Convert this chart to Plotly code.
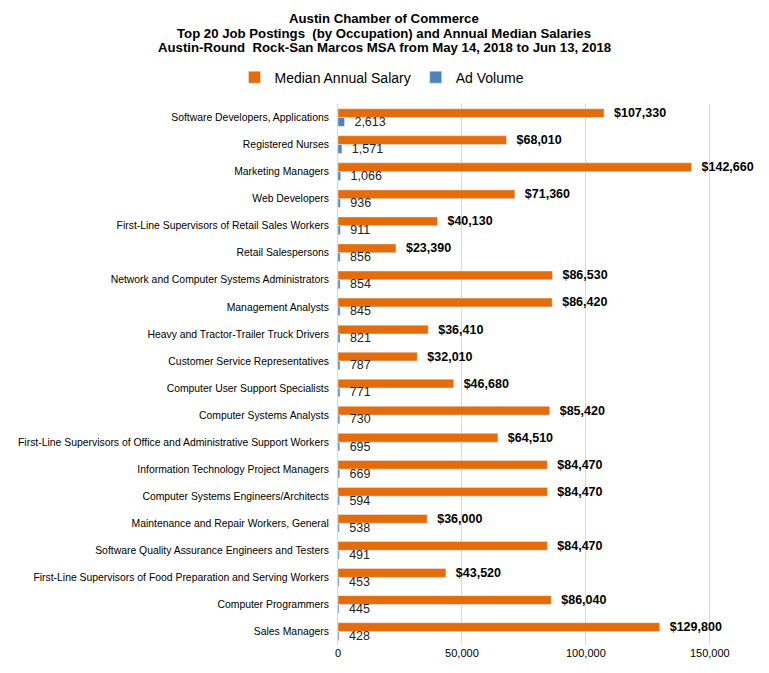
import plotly.graph_objects as go

occupations = [
    "Software Developers, Applications",
    "Registered Nurses",
    "Marketing Managers",
    "Web Developers",
    "First-Line Supervisors of Retail Sales Workers",
    "Retail Salespersons",
    "Network and Computer Systems Administrators",
    "Management Analysts",
    "Heavy and Tractor-Trailer Truck Drivers",
    "Customer Service Representatives",
    "Computer User Support Specialists",
    "Computer Systems Analysts",
    "First-Line Supervisors of Office and Administrative Support Workers",
    "Information Technology Project Managers",
    "Computer Systems Engineers/Architects",
    "Maintenance and Repair Workers, General",
    "Software Quality Assurance Engineers and Testers",
    "First-Line Supervisors of Food Preparation and Serving Workers",
    "Computer Programmers",
    "Sales Managers",
]
median_salary = [107330, 68010, 142660, 71360, 40130, 23390, 86530, 86420, 36410, 32010,
                 46680, 85420, 64510, 84470, 84470, 36000, 84470, 43520, 86040, 129800]
ad_volume = [2613, 1571, 1066, 936, 911, 856, 854, 845, 821, 787,
             771, 730, 695, 669, 594, 538, 491, 453, 445, 428]
x_ticks = [0, 50000, 100000, 150000]
x_tick_labels = ["0", "50,000", "100,000", "150,000"]

FONT = "Liberation Sans, Arial, sans-serif"
ORANGE = "#E46C0A"
BLUE = "#4F81BD"

fig = go.Figure()
fig.add_trace(go.Bar(
    y=occupations, x=median_salary, orientation="h", name="Median Annual Salary",
    marker_color=ORANGE, text=["  $" + f"{v:,}" for v in median_salary],
    textposition="outside", constraintext="none", cliponaxis=False,
    textfont=dict(family=FONT, size=12.5, color="#000000", weight="bold"),
))
fig.add_trace(go.Bar(
    y=occupations, x=ad_volume, orientation="h", name="Ad Volume",
    marker_color=BLUE, text=["  " + f"{v:,}" for v in ad_volume],
    textposition="outside", constraintext="none", cliponaxis=False,
    textfont=dict(family=FONT, size=12.5, color="#222222"),
))

# page body has an 8px margin: work in reference pixel coords, shifted by OFF
OFF = 8
W, H = 769 - 2 * OFF, 673 - 2 * OFF
ml = 338 - OFF
mt = 103.5 - OFF
mr = W - (747 - OFF)
mb = H - (645.5 - OFF)
pw, ph = W - ml - mr, H - mt - mb

def px(x):
    return (x - OFF - ml) / pw

def py(y):
    return 1 - (y - OFF - mt) / ph

title_lines = [
    "Austin Chamber of Commerce",
    "Top 20 Job Postings  (by Occupation) and Annual Median Salaries",
    "Austin-Round  Rock-San Marcos MSA from May 14, 2018 to Jun 13, 2018",
]
annotations = []
for i, line in enumerate(title_lines):
    annotations.append(dict(
        text=line, xref="paper", yref="paper", x=px(384), y=py(18 + i * 14.5),
        xanchor="center", yanchor="middle", showarrow=False,
        font=dict(family=FONT, size=13.2, color="#000000", weight="bold"),
    ))

fig.update_layout(
    width=W, height=H,
    margin=dict(l=ml, r=mr, t=mt, b=mb, autoexpand=False),
    paper_bgcolor="white", plot_bgcolor="white",
    barmode="group", bargap=0.35, bargroupgap=0.0,
    font=dict(family=FONT, size=11, color="#000000"),
    showlegend=True,
    legend=dict(orientation="h", x=px(382), xanchor="center", y=py(77), yanchor="middle",
                font=dict(family=FONT, size=14, color="#000000"),
                itemwidth=30, traceorder="normal"),
    annotations=annotations,
    xaxis=dict(range=[0, 165000], tickvals=x_ticks, ticktext=x_tick_labels, automargin=False,
               showgrid=True, gridcolor="#D9D9D9", gridwidth=1, zeroline=False,
               showline=False, ticks="", tickfont=dict(family=FONT, size=11, color="#000000")),
    yaxis=dict(autorange="reversed", showgrid=False, showline=True, linecolor="#D9D9D9",
               ticks="", ticklabelstandoff=6, automargin=False,
               tickfont=dict(family=FONT, size=10.4, color="#000000")),
)

fig.write_html("out.html")
